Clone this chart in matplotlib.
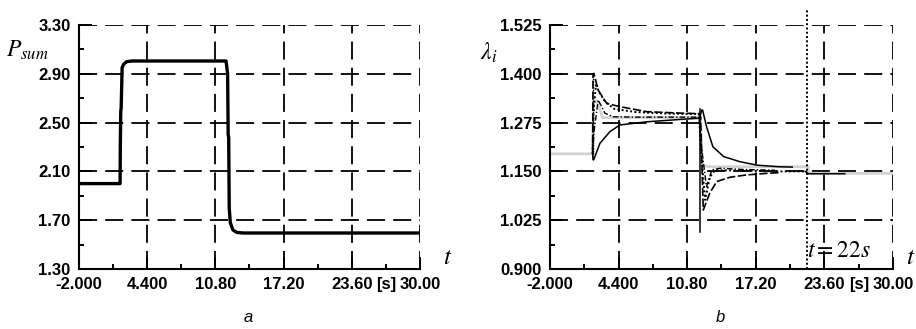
import numpy as np
import matplotlib
matplotlib.use("Agg")
import matplotlib.pyplot as plt

plt.rcParams['font.family'] = ['Liberation Sans', 'DejaVu Sans']
plt.rcParams['mathtext.fontset'] = 'stix'

# time axis ticks shared by both panels
x_ticks = [-2.0, 4.4, 10.8, 17.2, 23.6, 30.0]
x_labels = ["-2.000", "4.400", "10.80", "17.20", "23.60", "30.00"]

# panel a: total power
p_ticks = [1.30, 1.70, 2.10, 2.50, 2.90, 3.30]
t_p = [-2.0, 1.86, 1.88, 1.92, 1.96, 2.05, 2.2, 2.5, 3.0, 11.8, 11.95, 12.0, 12.05, 12.1, 12.2, 12.45, 12.8, 13.4, 30.0]
p_sum = [2.00, 2.00, 2.30, 2.59, 2.62, 2.95, 2.98, 3.00, 3.005, 3.005, 2.90, 2.40, 2.38, 1.80, 1.68, 1.62, 1.60, 1.595, 1.595]

# panel b: multipliers lambda_i
l_ticks = [0.900, 1.025, 1.150, 1.275, 1.400, 1.525]
t_ref = [-2.0, 2.0, 2.05, 2.4, 2.9, 12.05, 12.2, 12.9, 22.1, 22.15, 30.0]
l_ref = [1.195, 1.195, 1.33, 1.33, 1.288, 1.288, 1.165, 1.162, 1.162, 1.145, 1.145]

t_1 = [1.98, 2.02, 2.1, 2.66, 3.6, 4.53, 7.0, 10.1, 11.8, 12.0, 12.15, 12.24, 12.6, 13.2, 14.2, 15.7, 17.3, 19.3, 20.6]
l_1 = [1.195, 1.18, 1.181, 1.222, 1.252, 1.269, 1.277, 1.283, 1.286, 1.29, 1.307, 1.307, 1.265, 1.213, 1.188, 1.175, 1.166, 1.162, 1.161]

t_2 = [1.98, 2.02, 2.1, 2.5, 3.3, 4.5, 7.0, 10.4, 11.9, 12.05, 12.3, 12.9, 13.55, 14.8, 16.35, 18.2, 19.5]
l_2 = [1.195, 1.40, 1.401, 1.358, 1.324, 1.316, 1.303, 1.299, 1.298, 1.29, 1.051, 1.094, 1.124, 1.135, 1.141, 1.145, 1.147]

t_3 = [1.98, 2.05, 2.29, 2.66, 3.13, 4.0, 6.0, 9.0, 11.9, 12.1, 12.46, 12.93, 13.4, 16.0, 19.0, 22.0]
l_3 = [1.195, 1.30, 1.371, 1.35, 1.329, 1.31, 1.302, 1.298, 1.297, 1.20, 1.077, 1.136, 1.153, 1.152, 1.150, 1.150]

t_4 = [1.98, 2.1, 2.5, 3.13, 3.9, 6.0, 11.9, 12.1, 12.6, 13.1, 13.86, 16.0, 19.0]
l_4 = [1.195, 1.25, 1.333, 1.299, 1.29, 1.289, 1.289, 1.22, 1.111, 1.154, 1.158, 1.155, 1.153]

t_tail = [21.8, 22.1, 25.5]
l_tail = [1.15, 1.144, 1.144]

fig = plt.figure(figsize=(9.16, 3.29), dpi=100)
ax_a = fig.add_axes([0.0862, 0.1824, 0.3723, 0.7416])
ax_b = fig.add_axes([0.6004, 0.1824, 0.3745, 0.7416])


def style_axes(ax, yticks, yfmt, t_off):
    ax.set_xlim(x_ticks[0], x_ticks[-1])
    ax.set_ylim(yticks[0], yticks[-1])
    ax.set_xticks(x_ticks)
    ax.set_xticklabels(x_labels)
    ax.set_yticks(yticks)
    ax.set_yticklabels([yfmt.format(v) for v in yticks])
    ax.set_xticks([(a + b) / 2 for a, b in zip(x_ticks[:-1], x_ticks[1:])], minor=True)
    ax.set_yticks([(a + b) / 2 for a, b in zip(yticks[:-1], yticks[1:])], minor=True)
    ax.tick_params(which='major', direction='in', length=9, width=1.4, labelsize=12, pad=6)
    ax.tick_params(which='minor', direction='in', length=3.5, width=1.4)
    ax.tick_params(axis='y', pad=6)
    for lab in ax.get_xticklabels() + ax.get_yticklabels():
        lab.set_fontweight('bold')
    ax.spines['top'].set_visible(False)
    ax.spines['right'].set_visible(False)
    ax.spines['left'].set_linewidth(1.5)
    ax.spines['bottom'].set_linewidth(1.5)
    ax.grid(True, color='black', lw=1.3, ls=(0, (10, 4.5)))
    ax.set_axisbelow(True)
    ax.annotate("[s]", xy=(26.8, 0), xycoords=('data', 'axes fraction'),
                xytext=(0, -6), textcoords='offset points', ha='center', va='top',
                fontsize=12, fontweight='bold')
    ax.annotate("$t$", xy=(1, 0), xycoords='axes fraction', xytext=(t_off, 0),
                textcoords='offset points', ha='center', va='bottom', fontsize=18)


style_axes(ax_a, p_ticks, "{:.2f}", 20)
ax_a.plot(t_p, p_sum, color='black', lw=2.4, solid_joinstyle='round')
ax_a.text(-0.15, 0.895, "$P_{sum}$", transform=ax_a.transAxes, fontsize=17, ha='center', va='center')
fig.text(0.271, 0.02, "a", fontsize=12, style='italic', ha='center')

style_axes(ax_b, l_ticks, "{:.3f}", 13)
ax_b.plot(t_ref, l_ref, color='#d2d2d2', lw=2.0)
ax_b.plot(t_1, l_1, color='black', lw=1.1)
ax_b.plot(t_2, l_2, color='black', lw=1.2, ls=(0, (5, 1.5)))
ax_b.plot(t_3, l_3, color='black', lw=1.4, ls=(0, (1, 1.2)))
ax_b.plot(t_4, l_4, color='black', lw=1.0, ls=(0, (4, 1.5, 1, 1.5)))
ax_b.plot(t_tail, l_tail, color='black', lw=1.1)
ax_b.plot([2.0, 2.0], [1.18, 1.405], color='black', lw=1.0, ls=(0, (1, 1)))
ax_b.plot([12.0, 12.0], [0.995, 1.31], color='black', lw=1.1)
ax_b.plot([22.0, 22.0], [0.900, 1.568], color='black', lw=1.4, ls=(0, (1, 1.2)), clip_on=False)
ax_b.text(22.0, 0.946, "$t = 22s$", fontsize=17, ha='left', va='center')
ax_b.text(-0.178, 0.885, r"$\lambda_i$", transform=ax_b.transAxes, fontsize=17, ha='center', va='center')
fig.text(0.786, 0.02, "b", fontsize=12, style='italic', ha='center')

fig.savefig("out.png", dpi=100)
